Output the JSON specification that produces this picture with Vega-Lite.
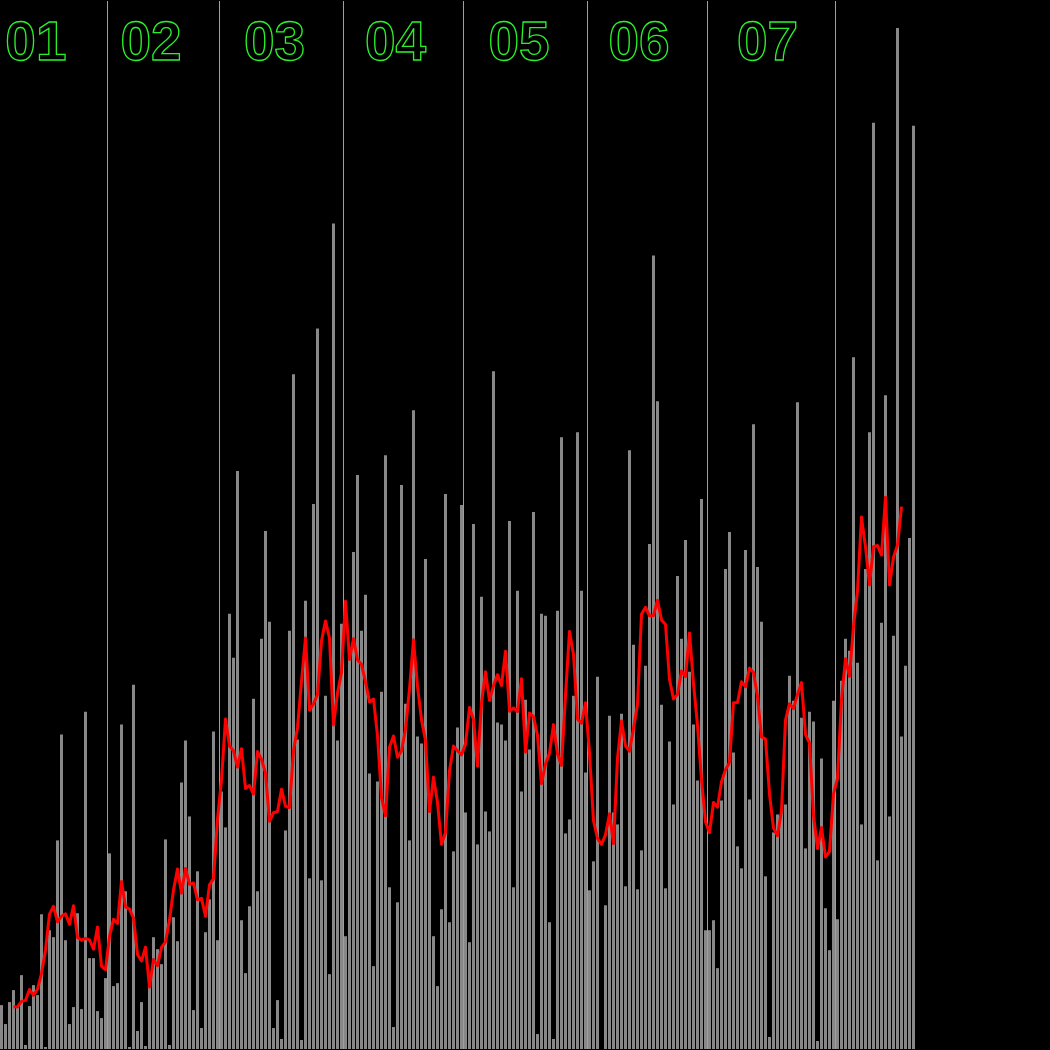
{
"$schema":"https://vega.github.io/schema/vega-lite/v6.json",
"width":1050,"height":1050,
"autosize":{"type":"fit","contains":"padding"},
"padding":0,
"background":"#000000",
"config":{"view":{"stroke":null}},
"datasets":{
"days":[
{"k":0,"v":44},{"k":1,"v":25},{"k":2,"v":47},{"k":3,"v":59,"ma":42.3},{"k":4,"v":43,"ma":42.1},{"k":5,"v":74,"ma":47.7},{"k":6,"v":4,"ma":48.7},{"k":7,"v":43,"ma":59.6},{"k":8,"v":64,"ma":53.7},{"k":9,"v":54,"ma":60.1},
{"k":10,"v":135,"ma":75.6},{"k":11,"v":2,"ma":99.3},{"k":12,"v":119,"ma":135.1},{"k":13,"v":112,"ma":143},{"k":14,"v":209,"ma":127.3},{"k":15,"v":315,"ma":133},{"k":16,"v":109,"ma":135.4},{"k":17,"v":25,"ma":125.1},{"k":18,"v":42,"ma":143.6},{"k":19,"v":136,"ma":111.6},
{"k":20,"v":40,"ma":109},{"k":21,"v":338,"ma":110.9},{"k":22,"v":91,"ma":109.3},{"k":23,"v":91,"ma":100},{"k":24,"v":38,"ma":122.3},{"k":25,"v":31,"ma":83},{"k":26,"v":71,"ma":79.4},{"k":27,"v":196,"ma":112.9},{"k":28,"v":63,"ma":130},{"k":29,"v":66,"ma":125.9},
{"k":30,"v":325,"ma":167.9},{"k":31,"v":158,"ma":142.4},{"k":32,"v":2,"ma":140.1},{"k":33,"v":365,"ma":131.1},{"k":34,"v":18,"ma":94.7},{"k":35,"v":47,"ma":88.1},{"k":36,"v":3,"ma":102.1},{"k":37,"v":70,"ma":62.1},{"k":38,"v":112,"ma":89.6},{"k":39,"v":100,"ma":83.4},
{"k":40,"v":85,"ma":101.9},{"k":41,"v":210,"ma":107.3},{"k":42,"v":4,"ma":129.4},{"k":43,"v":132,"ma":159.3},{"k":44,"v":108,"ma":180.4},{"k":45,"v":267,"ma":156},{"k":46,"v":309,"ma":180.9},{"k":47,"v":233,"ma":165},{"k":48,"v":39,"ma":166.3},{"k":49,"v":178,"ma":149.6},
{"k":50,"v":21,"ma":150.9},{"k":51,"v":117,"ma":133.1},{"k":52,"v":150,"ma":164.4},{"k":53,"v":318,"ma":170.7},{"k":54,"v":109,"ma":230},{"k":55,"v":258,"ma":269.3},{"k":56,"v":222,"ma":330.6},{"k":57,"v":436,"ma":303.6},{"k":58,"v":392,"ma":298.9},{"k":59,"v":579,"ma":282.4},
{"k":60,"v":129,"ma":300.9},{"k":61,"v":76,"ma":261.1},{"k":62,"v":143,"ma":263.9},{"k":63,"v":351,"ma":255.3},{"k":64,"v":158,"ma":298},{"k":65,"v":411,"ma":290.1},{"k":66,"v":519,"ma":276.7},{"k":67,"v":428,"ma":228},{"k":68,"v":21,"ma":236.7},{"k":69,"v":49,"ma":237.9},
{"k":70,"v":10,"ma":260.3},{"k":71,"v":219,"ma":243.4},{"k":72,"v":419,"ma":241.7},{"k":73,"v":676,"ma":298.9},{"k":74,"v":310,"ma":321.9},{"k":75,"v":9,"ma":368.6},{"k":76,"v":449,"ma":411.9},{"k":77,"v":171,"ma":339.4},{"k":78,"v":546,"ma":345.7},{"k":79,"v":722,"ma":355.1},
{"k":80,"v":169,"ma":409.1},{"k":81,"v":354,"ma":428.9},{"k":82,"v":75,"ma":411.7},{"k":83,"v":827,"ma":324.7},{"k":84,"v":309,"ma":356.6},{"k":85,"v":426,"ma":377.1},{"k":86,"v":113,"ma":448.6},{"k":87,"v":392,"ma":390.3},{"k":88,"v":498,"ma":411.1},{"k":89,"v":575,"ma":389.7},
{"k":90,"v":419,"ma":385.4},{"k":91,"v":455,"ma":367.7},{"k":92,"v":276,"ma":347.7},{"k":93,"v":83,"ma":350.6},{"k":94,"v":268,"ma":313.9},{"k":95,"v":358,"ma":252},{"k":96,"v":595,"ma":233.6},{"k":97,"v":162,"ma":302.4},{"k":98,"v":22,"ma":313.6},{"k":99,"v":147,"ma":292.3},
{"k":100,"v":565,"ma":298.7},{"k":101,"v":346,"ma":320.3},{"k":102,"v":209,"ma":360.9},{"k":103,"v":640,"ma":410},{"k":104,"v":313,"ma":363.3},{"k":105,"v":306,"ma":330},{"k":106,"v":491,"ma":309.1},{"k":107,"v":238,"ma":237.7},{"k":108,"v":113,"ma":272.4},{"k":109,"v":63,"ma":246.9},
{"k":110,"v":140,"ma":205},{"k":111,"v":556,"ma":217},{"k":112,"v":127,"ma":278.7},{"k":113,"v":198,"ma":303.6},{"k":114,"v":322,"ma":298.9},{"k":115,"v":545,"ma":294.6},{"k":116,"v":237,"ma":305.7},{"k":117,"v":107,"ma":342.1},{"k":118,"v":526,"ma":330.1},{"k":119,"v":205,"ma":283.4},
{"k":120,"v":453,"ma":346.6},{"k":121,"v":238,"ma":378},{"k":122,"v":218,"ma":349.3},{"k":123,"v":679,"ma":364.1},{"k":124,"v":327,"ma":375},{"k":125,"v":325,"ma":364.1},{"k":126,"v":309,"ma":398.6},{"k":127,"v":529,"ma":338.4},{"k":128,"v":162,"ma":341.7},{"k":129,"v":459,"ma":338.1},
{"k":130,"v":258,"ma":370.9},{"k":131,"v":350,"ma":297.4},{"k":132,"v":300,"ma":336.6},{"k":133,"v":538,"ma":333},{"k":134,"v":15,"ma":314.3},{"k":135,"v":436,"ma":265.7},{"k":136,"v":434,"ma":285.6},{"k":137,"v":127,"ma":296.3},{"k":138,"v":10,"ma":325},{"k":139,"v":439,"ma":295.6},
{"k":140,"v":613,"ma":284.1},{"k":141,"v":216,"ma":354.3},{"k":142,"v":230,"ma":418.4},{"k":143,"v":354,"ma":395.3},{"k":144,"v":618,"ma":330.4},{"k":145,"v":459,"ma":326.4},{"k":146,"v":277,"ma":346.9},{"k":147,"v":159,"ma":296.4},{"k":148,"v":188,"ma":228.7},{"k":149,"v":373,"ma":210.9},
{"k":150,"v":0,"ma":205.1},{"k":151,"v":144,"ma":214.6},{"k":152,"v":334,"ma":235.7},{"k":153,"v":237,"ma":205.7},{"k":154,"v":225,"ma":291.3},{"k":155,"v":336,"ma":328.6},{"k":156,"v":163,"ma":303.7},{"k":157,"v":600,"ma":298.3},{"k":158,"v":405,"ma":321},{"k":159,"v":160,"ma":345.3},
{"k":160,"v":199,"ma":435.6},{"k":161,"v":384,"ma":442.6},{"k":162,"v":506,"ma":434},{"k":163,"v":795,"ma":434.1},{"k":164,"v":649,"ma":449.7},{"k":165,"v":345,"ma":429.9},{"k":166,"v":161,"ma":425.3},{"k":167,"v":308,"ma":370.4},{"k":168,"v":245,"ma":350.6},{"k":169,"v":474,"ma":355.3},
{"k":170,"v":411,"ma":378.7},{"k":171,"v":510,"ma":373.1},{"k":172,"v":378,"ma":416.9},{"k":173,"v":325,"ma":366.1},{"k":174,"v":269,"ma":324.4},{"k":175,"v":551,"ma":270},{"k":176,"v":119,"ma":227.6},{"k":177,"v":119,"ma":216.7},{"k":178,"v":129,"ma":247},{"k":179,"v":81,"ma":242.3},
{"k":180,"v":249,"ma":267.7},{"k":181,"v":481,"ma":279.7},{"k":182,"v":518,"ma":287.1},{"k":183,"v":297,"ma":347},{"k":184,"v":203,"ma":347.1},{"k":185,"v":181,"ma":367.9},{"k":186,"v":500,"ma":362.9},{"k":187,"v":250,"ma":381.6},{"k":188,"v":626,"ma":377.3},{"k":189,"v":483,"ma":353.1},
{"k":190,"v":428,"ma":312.7},{"k":191,"v":173,"ma":310.6},{"k":192,"v":12,"ma":255.3},{"k":193,"v":217,"ma":221.3},{"k":194,"v":235,"ma":213.6},{"k":195,"v":239,"ma":238.7},{"k":196,"v":245,"ma":329.6},{"k":197,"v":374,"ma":346},{"k":198,"v":349,"ma":341.1},{"k":199,"v":648,"ma":355.3},
{"k":200,"v":332,"ma":367.1},{"k":201,"v":201,"ma":314.9},{"k":202,"v":338,"ma":306.6},{"k":203,"v":328,"ma":234.1},{"k":204,"v":8,"ma":200.9},{"k":205,"v":291,"ma":222},{"k":206,"v":141,"ma":192.3},{"k":207,"v":99,"ma":198.1},{"k":208,"v":349,"ma":255.7},{"k":209,"v":130,"ma":271.1},
{"k":210,"v":369,"ma":350},{"k":211,"v":411,"ma":391.1},{"k":212,"v":399,"ma":373.4},{"k":213,"v":693,"ma":423.6},{"k":214,"v":387,"ma":459.1},{"k":215,"v":225,"ma":533},{"k":216,"v":481,"ma":503},{"k":217,"v":618,"ma":465},{"k":218,"v":928,"ma":503.3},{"k":219,"v":189,"ma":504.4},
{"k":220,"v":427,"ma":494.9},{"k":221,"v":655,"ma":552.7},{"k":222,"v":233,"ma":464.9},{"k":223,"v":414,"ma":492.7},{"k":224,"v":1023,"ma":504.9},{"k":225,"v":313,"ma":543.4},{"k":226,"v":384},{"k":227,"v":512},{"k":228,"v":925}
],
"months":[
{"label":"01","labelAt":8.6},
{"label":"02","start":26.5,"labelAt":37.4},
{"label":"03","start":54.5,"labelAt":68.25},
{"label":"04","start":85.5,"labelAt":98.5},
{"label":"05","start":115.5,"labelAt":129.4},
{"label":"06","start":146.5,"labelAt":159.4},
{"label":"07","start":176.5,"labelAt":191.5},
{"label":"08","start":208.5}
]
},
"layer":[
{"data":{"name":"months"},
 "mark":{"type":"rule","color":"#2af02a","strokeWidth":1},
 "encoding":{"x":{"field":"start","type":"quantitative","scale":{"domain":[-0.375,262.125],"nice":false,"zero":false,"padding":0},"axis":null}}},
{"data":{"name":"days"},
 "mark":{"type":"bar","width":3,"color":"#888888"},
 "encoding":{
  "x":{"field":"k","type":"quantitative","scale":{"domain":[-0.375,262.125],"nice":false,"zero":false,"padding":0},"axis":null},
  "y":{"field":"v","type":"quantitative","scale":{"domain":[0,1050],"nice":false,"padding":0},"axis":null}}},
{"data":{"name":"days"},
 "mark":{"type":"line","color":"#ff0000","strokeWidth":3,"strokeJoin":"round"},
 "encoding":{
  "x":{"field":"k","type":"quantitative","scale":{"domain":[-0.375,262.125],"nice":false,"zero":false,"padding":0},"axis":null},
  "y":{"field":"ma","type":"quantitative","scale":{"domain":[0,1050],"nice":false,"padding":0},"axis":null}}},
{"data":{"name":"months"},
 "transform":[{"filter":"isValid(datum.labelAt)"}],
 "mark":{"type":"text","align":"center","baseline":"alphabetic","font":"Liberation Sans","fontWeight":"bold","fontSize":55,"fill":"#000000","stroke":"#2af02a","strokeWidth":1.3},
 "encoding":{
  "x":{"field":"labelAt","type":"quantitative","scale":{"domain":[-0.375,262.125],"nice":false,"zero":false,"padding":0},"axis":null},
  "y":{"datum":991,"type":"quantitative","scale":{"domain":[0,1050],"nice":false,"padding":0},"axis":null},
  "text":{"field":"label"}}}
]
}
